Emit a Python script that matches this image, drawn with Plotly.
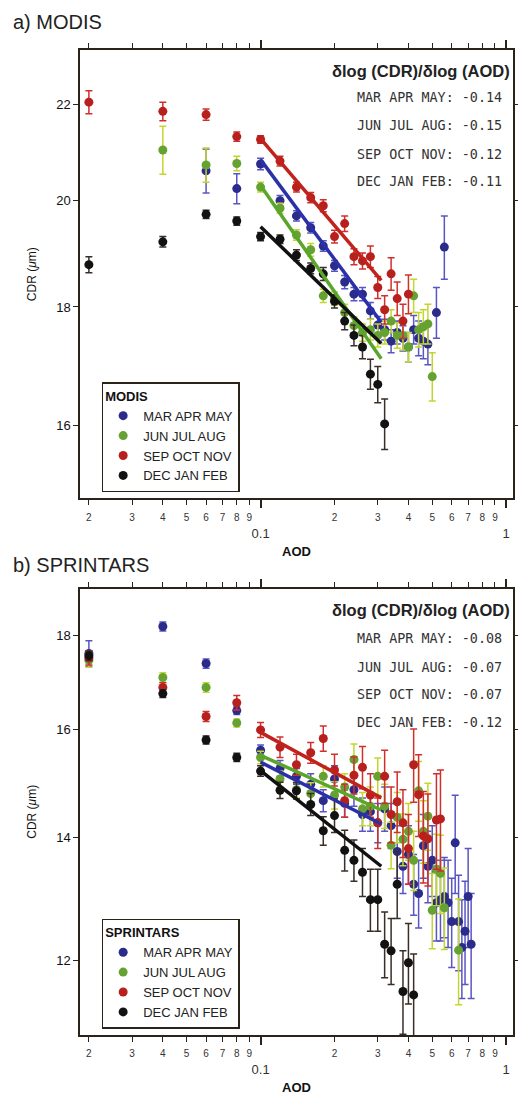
import plotly.graph_objects as go
import math

# ---------------- DATA ----------------
seasons = ["MAR APR MAY", "JUN JUL AUG", "SEP OCT NOV", "DEC JAN FEB"]

# a) MODIS
m_aod_mam = [0.06,0.08,0.10,0.12,0.14,0.16,0.18,0.20,0.22,0.24,0.26,0.28,0.30,0.32,0.34,0.36,0.38,0.40,0.42,0.44,0.46,0.48,0.52,0.56]
m_cdr_mam = [20.6,20.24,20.74,20.0,19.7,19.47,19.12,18.75,18.45,18.23,18.23,17.93,17.68,17.6,17.4,17.55,17.45,17.3,17.6,17.45,17.4,17.35,17.9,19.1]
m_err_mam = [0.45,0.3,0.12,0.1,0.1,0.1,0.1,0.1,0.12,0.12,0.12,0.15,0.15,0.18,0.2,0.2,0.22,0.25,0.25,0.3,0.3,0.35,0.45,0.6]

m_aod_jja = [0.04,0.06,0.08,0.10,0.12,0.14,0.16,0.18,0.20,0.22,0.24,0.26,0.28,0.30,0.32,0.34,0.36,0.38,0.40,0.42,0.44,0.46,0.48,0.50]
m_cdr_jja = [21.03,20.72,20.75,20.27,19.85,19.33,19.05,18.2,18.15,17.9,17.67,17.55,17.6,17.5,17.55,17.75,17.5,17.5,17.3,18.2,17.6,17.65,17.7,16.8]
m_err_jja = [0.5,0.35,0.15,0.1,0.1,0.1,0.12,0.12,0.12,0.15,0.15,0.15,0.18,0.2,0.2,0.2,0.22,0.25,0.25,0.3,0.3,0.3,0.35,0.4]

m_aod_son = [0.02,0.04,0.06,0.08,0.10,0.12,0.14,0.16,0.18,0.20,0.22,0.24,0.26,0.28,0.30,0.32,0.34,0.36,0.38,0.40]
m_cdr_son = [22.05,21.85,21.78,21.31,21.25,20.8,20.27,20.06,19.9,19.3,19.55,18.92,18.84,18.92,18.35,17.95,18.6,18.15,17.75,18.23]
m_err_son = [0.25,0.2,0.12,0.1,0.08,0.1,0.1,0.1,0.12,0.12,0.15,0.15,0.15,0.2,0.2,0.25,0.3,0.3,0.3,0.35]

m_aod_djf = [0.02,0.04,0.06,0.08,0.10,0.12,0.14,0.16,0.18,0.20,0.22,0.24,0.26,0.28,0.30,0.32]
m_cdr_djf = [18.77,19.2,19.73,19.6,19.3,19.25,18.95,18.7,18.6,18.1,17.75,17.5,17.3,16.84,16.67,16.03]
m_err_djf = [0.15,0.1,0.08,0.08,0.08,0.08,0.1,0.1,0.12,0.12,0.15,0.18,0.2,0.25,0.3,0.4]

fit_aod = [0.1, 0.31]
m_fit_mam = [20.83, 17.73]
m_fit_jja = [20.3, 17.1]
m_fit_son = [21.27, 18.48]
m_fit_djf = [19.49, 17.36]
m_slopes = ["-0.14", "-0.15", "-0.12", "-0.11"]

# b) SPRINTARS
s_aod_mam = [0.02,0.04,0.06,0.08,0.10,0.12,0.14,0.16,0.18,0.20,0.22,0.24,0.26,0.28,0.30,0.32,0.34,0.36,0.38,0.40,0.42,0.44,0.46,0.48,0.50,0.52,0.54,0.56,0.58,0.60,0.62,0.64,0.66,0.68,0.70,0.72]
s_cdr_mam = [17.6,18.2,17.38,16.39,15.6,15.25,15.1,14.95,14.65,15.05,14.6,14.85,14.4,14.45,14.25,14.5,14.2,13.75,13.5,13.7,13.2,13.05,13.85,13.5,13.6,12.9,12.95,13.0,12.9,12.6,13.9,12.6,12.2,12.45,13.0,12.25]
s_err_mam = [0.28,0.1,0.1,0.08,0.1,0.15,0.15,0.2,0.2,0.25,0.25,0.3,0.3,0.35,0.35,0.4,0.4,0.45,0.45,0.5,0.5,0.55,0.55,0.6,0.6,0.6,0.65,0.65,0.7,0.7,0.85,0.75,0.75,0.8,0.8,0.8]

s_aod_jja = [0.02,0.04,0.06,0.08,0.10,0.12,0.14,0.16,0.18,0.20,0.22,0.24,0.26,0.28,0.30,0.32,0.34,0.36,0.38,0.40,0.42,0.44,0.46,0.48,0.50,0.52,0.54,0.56,0.64]
s_cdr_jja = [17.45,17.08,16.87,16.14,15.46,15.05,14.85,14.78,15.1,14.75,14.9,15.42,14.5,14.55,15.1,14.55,13.86,14.35,13.96,14.1,13.6,14.83,14.1,14.37,12.78,13.45,13.38,12.82,12.16]
s_err_jja = [0.15,0.1,0.1,0.08,0.12,0.15,0.15,0.2,0.2,0.25,0.25,0.3,0.3,0.35,0.35,0.4,0.4,0.45,0.45,0.5,0.5,0.55,0.55,0.6,0.6,0.6,0.65,0.65,0.8]

s_aod_son = [0.02,0.04,0.06,0.08,0.10,0.12,0.14,0.16,0.18,0.20,0.22,0.24,0.26,0.28,0.30,0.32,0.34,0.36,0.38,0.40,0.42,0.44,0.46,0.48,0.52,0.54]
s_cdr_son = [17.5,16.87,16.27,16.55,16.0,15.66,15.32,15.55,15.83,15.22,14.65,15.12,15.27,14.75,14.25,15.1,14.4,14.63,14.25,13.8,15.32,14.76,14.02,13.97,14.3,14.32]
s_err_son = [0.15,0.1,0.1,0.15,0.15,0.2,0.2,0.2,0.25,0.3,0.3,0.35,0.4,0.4,0.45,0.5,0.5,0.55,0.6,0.6,0.7,0.75,0.8,0.8,0.85,0.9]

s_aod_djf = [0.02,0.04,0.06,0.08,0.10,0.12,0.14,0.16,0.18,0.20,0.22,0.24,0.26,0.28,0.30,0.32,0.34,0.36,0.38,0.40,0.42]
s_cdr_djf = [17.55,16.74,15.8,15.46,15.2,14.84,14.83,14.58,14.11,14.38,13.77,13.6,13.4,12.95,12.95,12.25,12.15,13.2,11.55,11.97,11.5]
s_err_djf = [0.1,0.08,0.08,0.08,0.1,0.15,0.15,0.2,0.25,0.3,0.35,0.35,0.4,0.5,0.5,0.5,0.5,0.55,0.6,0.6,0.6]

s_fit_mam = [15.37, 14.23]
s_fit_jja = [15.5, 14.48]
s_fit_son = [15.95, 14.7]
s_fit_djf = [15.21, 13.5]
s_slopes = ["-0.08", "-0.07", "-0.07", "-0.12"]

# x tick labels (log axis)
xtick_vals = [0.02,0.03,0.04,0.05,0.06,0.07,0.08,0.09,0.1,0.2,0.3,0.4,0.5,0.6,0.7,0.8,0.9,1]
minor_lbl = ["2","3","4","5","6","7","8","9"]
xtick_text = ([f"<span style='font-size:10px'>{t}</span>" for t in minor_lbl] + ["<br>0.1"] +
              [f"<span style='font-size:10px'>{t}</span>" for t in minor_lbl] + ["<br>1"])
major_vals = [0.1, 1]
m_yticks = [16, 18, 20, 22]
s_yticks = [12, 14, 16, 18]

# ---------------- STYLE ----------------
mcol = ["#2b2b8c", "#66a232", "#b8201e", "#121212"]
ecol = ["#5a55c4", "#c4d62c", "#d0302c", "#3a2e26"]
lcol = ["#2a30a8", "#5aa62a", "#c0221c", "#111111"]
axcol = "#2a2418"
FONT = "Liberation Sans, Arial, sans-serif"

fig = go.Figure()

def add_panel(aods, cdrs, errs, fits, xa, ya, leg):
    for i in range(4):
        fig.add_trace(go.Scatter(
            x=aods[i], y=cdrs[i], mode="markers", name=seasons[i],
            xaxis=xa, yaxis=ya, legend=leg,
            marker=dict(color=mcol[i], size=9, line=dict(width=0)),
            error_y=dict(type="data", array=errs[i], color=ecol[i], thickness=1.5, width=3.5),
        ))
    for i in range(4):
        fig.add_trace(go.Scatter(
            x=fit_aod, y=fits[i], mode="lines", showlegend=False,
            xaxis=xa, yaxis=ya, line=dict(color=lcol[i], width=3.5),
        ))

add_panel([m_aod_mam, m_aod_jja, m_aod_son, m_aod_djf],
          [m_cdr_mam, m_cdr_jja, m_cdr_son, m_cdr_djf],
          [m_err_mam, m_err_jja, m_err_son, m_err_djf],
          [m_fit_mam, m_fit_jja, m_fit_son, m_fit_djf], "x", "y", "legend")
add_panel([s_aod_mam, s_aod_jja, s_aod_son, s_aod_djf],
          [s_cdr_mam, s_cdr_jja, s_cdr_son, s_cdr_djf],
          [s_err_mam, s_err_jja, s_err_son, s_err_djf],
          [s_fit_mam, s_fit_jja, s_fit_son, s_fit_djf], "x2", "y2", "legend2")

# empty traces so overlay tick axes get drawn
fig.add_trace(go.Scatter(x=[], y=[], xaxis="x3", yaxis="y", showlegend=False))
fig.add_trace(go.Scatter(x=[], y=[], xaxis="x4", yaxis="y2", showlegend=False))

xrange_ = [math.log10(0.0184), math.log10(1.066)]
top_dom = [0.5448, 1.0]
bot_dom = [0.0, 0.4532]

def xax(anchor, title):
    return dict(type="log", range=xrange_, anchor=anchor, domain=[0, 1],
                tickvals=xtick_vals, ticktext=xtick_text, tickangle=0,
                tickfont=dict(family=FONT, size=13, color="#333"),
                ticks="outside", ticklen=5, tickwidth=1.3, tickcolor=axcol,
                showline=True, linecolor=axcol, linewidth=1.5, mirror="ticks",
                showgrid=False, zeroline=False,
                title=dict(text=title, font=dict(family=FONT, size=13, color="#111"), standoff=7))

def xmajor(anchor, over):
    return dict(type="log", range=xrange_, anchor=anchor, overlaying=over, domain=[0, 1],
                tickvals=major_vals, showticklabels=False, ticks="outside", ticklen=9,
                tickwidth=1.5, tickcolor=axcol, showline=False, mirror="ticks",
                showgrid=False, zeroline=False)

def yax(anchor, dom, rng, tv):
    return dict(type="log", range=[math.log10(rng[0]), math.log10(rng[1])], anchor=anchor, domain=dom,
                tickvals=tv, ticktext=[str(v) for v in tv],
                tickfont=dict(family=FONT, size=13, color="#111"),
                ticks="outside", ticklen=5, tickwidth=1.3, tickcolor=axcol,
                showline=True, linecolor=axcol, linewidth=1.5, mirror="ticks",
                showgrid=False, zeroline=False,
                title=dict(text="CDR (<i>μ</i>m)", font=dict(family=FONT, size=12, color="#111"), standoff=17))

legend_common = dict(xanchor="left", yanchor="top", bgcolor="white",
                     bordercolor="#2a2418", borderwidth=1.5,
                     font=dict(family=FONT, size=13, color="#222"),
                     tracegroupgap=0, itemwidth=30)

# page body has an 8px margin: figure is 8px smaller, margins shifted accordingly
fig.update_layout(
    width=518, height=1091,
    margin=dict(l=72, r=6, t=42, b=56),
    paper_bgcolor="white", plot_bgcolor="white",
    font=dict(family=FONT),
    xaxis=xax("y", "<b>AOD</b>"),
    xaxis2=xax("y2", "<b>AOD</b>"),
    xaxis3=xmajor("y", "x"),
    xaxis4=xmajor("y2", "x2"),
    yaxis=yax("x", top_dom, [14.89, 23.22], m_yticks),
    yaxis2=yax("x2", bot_dom, [10.94, 19.08], s_yticks),
    legend=dict(x=0.05, y=0.6626, title=dict(text="<b>MODIS</b>", side="top",
                font=dict(family=FONT, size=13, color="#111")), **legend_common),
    legend2=dict(x=0.05, y=0.1179, title=dict(text="<b>SPRINTARS</b>", side="top",
                 font=dict(family=FONT, size=13, color="#111")), **legend_common),
    showlegend=True,
)

anns = []
anns.append(dict(text="a) MODIS", x=-0.159, y=1.0282, xanchor="left", yanchor="middle",
                 font=dict(family=FONT, size=20, color="#222")))
anns.append(dict(text="b) SPRINTARS", x=-0.159, y=0.4773, xanchor="left", yanchor="middle",
                 font=dict(family=FONT, size=20, color="#222")))
head_y = [0.9789, 0.4310]
line_y = [[0.9517, 0.9235, 0.8943, 0.8661], [0.4028, 0.3736, 0.3454, 0.3172]]
for p, slopes in enumerate([m_slopes, s_slopes]):
    anns.append(dict(text="<b>δlog (CDR)/δlog (AOD)</b>", x=0.998, y=head_y[p], xanchor="right",
                     yanchor="middle", font=dict(family=FONT, size=16.5, color="#222")))
    for i in range(4):
        anns.append(dict(text=f"{seasons[i]}: {slopes[i]}", x=0.98, y=line_y[p][i], xanchor="right",
                         yanchor="middle", font=dict(family="DejaVu Sans Mono, monospace", size=13.4, color="#333")))
for a in anns:
    a.update(xref="paper", yref="paper", showarrow=False)
fig.update_layout(annotations=anns)

fig.write_html("out.html")
